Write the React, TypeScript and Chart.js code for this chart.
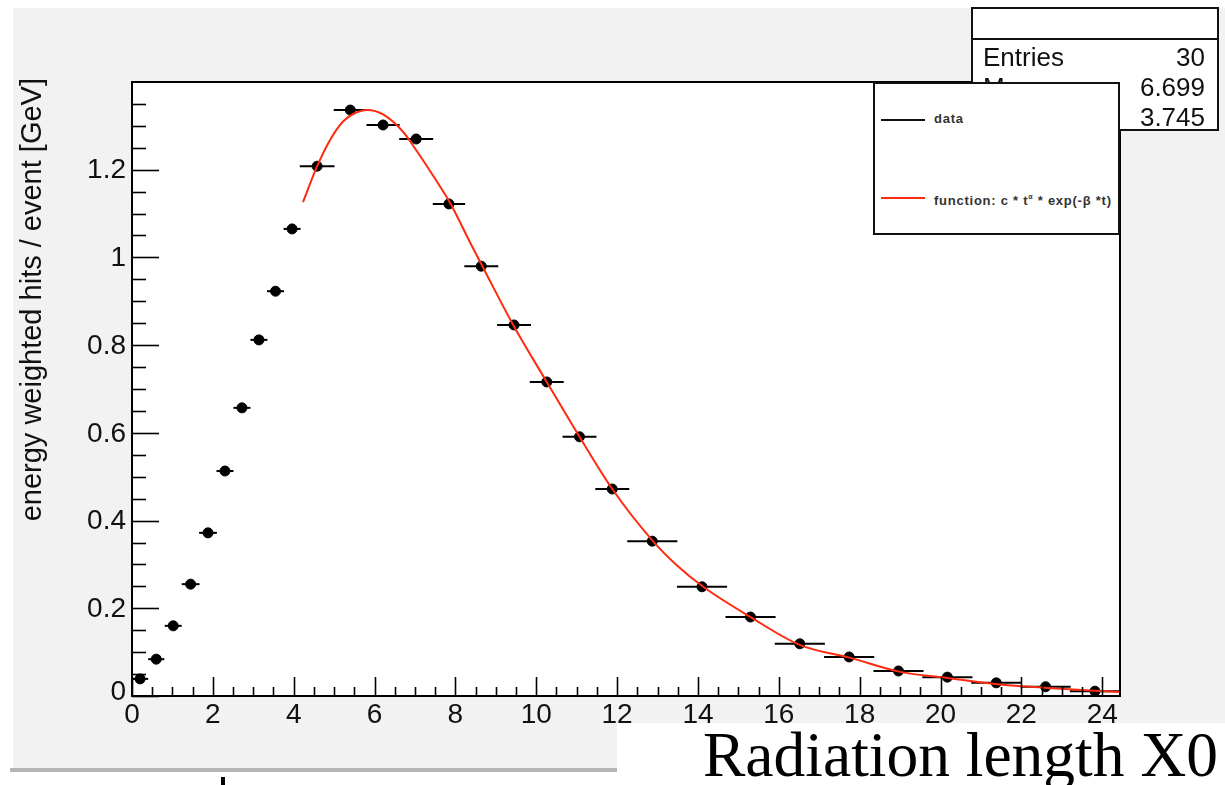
import React, { useEffect, useRef } from "react";
import { Chart, registerables } from "chart.js";

Chart.register(...registerables);

// ---- data ----
const binCenters = [
  0.2, 0.6, 1.02, 1.45, 1.88, 2.3, 2.72, 3.14, 3.55, 3.96, 4.58, 5.4, 6.21, 7.03, 7.84,
  8.64, 9.45, 10.26, 11.07, 11.88, 12.87, 14.1, 15.3, 16.52, 17.74, 18.96, 20.17, 21.38,
  22.6, 23.82,
];
const binHalfWidths = [
  0.2, 0.2, 0.21, 0.22, 0.22, 0.21, 0.21, 0.21, 0.21, 0.21, 0.43, 0.41, 0.41, 0.42, 0.4,
  0.42, 0.42, 0.42, 0.42, 0.42, 0.62, 0.62, 0.62, 0.62, 0.62, 0.62, 0.62, 0.62, 0.62, 0.62,
];
const hitValues = [
  0.039, 0.084, 0.16, 0.255, 0.372, 0.513, 0.657, 0.812, 0.923, 1.065, 1.208, 1.336, 1.302,
  1.27, 1.122, 0.98, 0.846, 0.716, 0.591, 0.472, 0.353, 0.249, 0.18, 0.119, 0.089, 0.057,
  0.043, 0.03, 0.021, 0.011,
];
const fitX = [
  4.23, 4.58, 4.9, 5.22, 5.47, 5.82, 6.21, 6.71, 6.96, 7.55, 7.87, 8.37, 8.69, 9.43, 10.26,
  11.07, 11.88, 12.87, 13.49, 14.13, 15.3, 16.53, 17.77, 19.0, 20.17, 21.41, 22.55, 24.44,
];
const fitY = [
  1.126, 1.208, 1.268, 1.31, 1.327, 1.336, 1.326, 1.286, 1.254, 1.172, 1.124, 1.033, 0.976,
  0.846, 0.716, 0.591, 0.472, 0.355, 0.297, 0.249, 0.18, 0.116, 0.087, 0.055, 0.041, 0.027,
  0.019, 0.009,
];
const xTickValues = [0, 2, 4, 6, 8, 10, 12, 14, 16, 18, 20, 22, 24];
const yTickValues = [0, 0.2, 0.4, 0.6, 0.8, 1.0, 1.2];
const yTickLabels = ["0", "0.2", "0.4", "0.6", "0.8", "1", "1.2"];
const xRange = [0, 24.44];
const yRange = [0, 1.4];
const yTitle = "energy weighted hits / event [GeV]";
const statsLabels = ["Entries", "Mean", "RMS"];
const statsValues = ["30", "6.699", "3.745"];
const xTitle = "Radiation length X0";

const SANS = '"Liberation Sans", Arial, Helvetica, sans-serif';
const SERIF = '"Liberation Serif", "Times New Roman", serif';
const RED = "#ff2a10";

const rootAxesPlugin = {
  id: "rootAxes",
  beforeDraw(chart: any) {
    const { ctx, chartArea: a } = chart;
    ctx.save();
    ctx.fillStyle = "#ffffff";
    ctx.fillRect(a.left, a.top, a.right - a.left, a.bottom - a.top);
    ctx.restore();
  },
  beforeDatasetsDraw(chart: any) {
    const { ctx } = chart;
    const xs = chart.scales.x;
    const ys = chart.scales.y;
    ctx.save();
    ctx.strokeStyle = "#000";
    ctx.lineWidth = 2;
    for (let i = 0; i < binCenters.length; i++) {
      const y = ys.getPixelForValue(hitValues[i]);
      ctx.beginPath();
      ctx.moveTo(xs.getPixelForValue(binCenters[i] - binHalfWidths[i]), y);
      ctx.lineTo(xs.getPixelForValue(binCenters[i] + binHalfWidths[i]), y);
      ctx.stroke();
    }
    ctx.restore();
  },
  afterDraw(chart: any) {
    const { ctx, chartArea: a } = chart;
    const xs = chart.scales.x;
    const ys = chart.scales.y;
    ctx.save();
    ctx.strokeStyle = "#000";
    ctx.lineWidth = 2;
    ctx.strokeRect(a.left, a.top, a.right - a.left, a.bottom - a.top);
    ctx.lineWidth = 1.6;
    // x ticks
    for (let v = 0; v <= xRange[1] + 1e-9; v += 0.5) {
      const px = Math.round(xs.getPixelForValue(v)) + 0.5;
      const major = Math.abs(v / 2 - Math.round(v / 2)) < 1e-6;
      const len = major ? 19 : 9;
      ctx.beginPath();
      ctx.moveTo(px, a.bottom);
      ctx.lineTo(px, a.bottom - len);
      ctx.stroke();
    }
    // y ticks
    for (let k = 0; k * 0.05 < yRange[1] - 1e-6; k++) {
      const v = k * 0.05;
      const py = Math.round(ys.getPixelForValue(v)) + 0.5;
      const major = k % 4 === 0;
      const len = major ? 27 : 14;
      ctx.beginPath();
      ctx.moveTo(a.left, py);
      ctx.lineTo(a.left + len, py);
      ctx.stroke();
    }
    // labels
    ctx.fillStyle = "#111";
    ctx.font = `28px ${SANS}`;
    ctx.textAlign = "center";
    ctx.textBaseline = "top";
    xTickValues.forEach((v) => {
      ctx.fillText(String(v), xs.getPixelForValue(v), a.bottom + 5);
    });
    ctx.textAlign = "right";
    ctx.textBaseline = "middle";
    yTickValues.forEach((v, i) => {
      ctx.fillText(yTickLabels[i], a.left - 6, ys.getPixelForValue(v) + (i === 0 ? -4 : 1));
    });
    // y title
    ctx.save();
    ctx.translate(33, a.top - 4);
    ctx.rotate(-Math.PI / 2);
    ctx.textAlign = "right";
    ctx.textBaseline = "middle";
    ctx.font = `29px ${SANS}`;
    ctx.fillText(yTitle, 0, 0);
    ctx.restore();
    ctx.restore();
  },
};

export default function App() {
  const canvasRef = useRef<HTMLCanvasElement | null>(null);

  useEffect(() => {
    if (!canvasRef.current) return;
    const points = binCenters.map((x, i) => ({ x, y: hitValues[i] }));
    const curve = fitX.map((x, i) => ({ x, y: fitY[i] }));
    const chart = new Chart(canvasRef.current, {
      type: "scatter",
      data: {
        datasets: [
          {
            label: "function",
            data: curve,
            showLine: true,
            borderColor: RED,
            borderWidth: 2,
            pointRadius: 0,
            cubicInterpolationMode: "monotone",
            order: 0,
          } as any,
          {
            label: "data",
            data: points,
            showLine: false,
            pointRadius: 5,
            pointBackgroundColor: "#000",
            pointBorderColor: "#000",
            pointBorderWidth: 1,
            order: 1,
          },
        ],
      },
      options: {
        responsive: false,
        animation: false,
        devicePixelRatio: 1,
        layout: { padding: { left: 132, top: 82, right: 105, bottom: 89 } },
        plugins: { legend: { display: false }, tooltip: { enabled: false }, title: { display: false } },
        scales: {
          x: { type: "linear", min: xRange[0], max: xRange[1], display: false },
          y: { type: "linear", min: yRange[0], max: yRange[1], display: false },
        },
      },
      plugins: [rootAxesPlugin],
    });
    return () => chart.destroy();
  }, []);

  const abs = (s: React.CSSProperties): React.CSSProperties => ({ position: "absolute", ...s });

  return (
    <div
      style={{
        position: "fixed",
        left: 0,
        top: 0,
        width: 1225,
        height: 785,
        background: "#ffffff",
        overflow: "hidden",
        fontFamily: SANS,
      }}
    >
      <div style={abs({ left: 13, top: 8, width: 1212, height: 761, background: "#f2f2f2" })} />
      <div style={abs({ left: 10, top: 768, width: 610, height: 4, background: "#b5b5b5" })} />
      <canvas ref={canvasRef} width={1225} height={785} style={abs({ left: 0, top: 0 })} />
      {/* stats box */}
      <div
        style={abs({
          left: 971,
          top: 7,
          width: 248,
          height: 124,
          boxSizing: "border-box",
          border: "2px solid #111",
          background: "#fff",
        })}
      >
        <div style={abs({ left: 0, top: 29, width: 244, height: 2, background: "#111" })} />
        {statsLabels.map((l, i) => (
          <React.Fragment key={l}>
            <div style={abs({ left: 10, top: 33 + i * 30, fontSize: 26, lineHeight: "30px", color: "#111" })}>{l}</div>
            <div style={abs({ right: 12, top: 33 + i * 30, fontSize: 26, lineHeight: "30px", color: "#111" })}>
              {statsValues[i]}
            </div>
          </React.Fragment>
        ))}
      </div>
      {/* legend box */}
      <div
        style={abs({
          left: 873,
          top: 82,
          width: 247,
          height: 153,
          boxSizing: "border-box",
          border: "2px solid #111",
          background: "#fff",
        })}
      >
        <div style={abs({ left: 6, top: 35, width: 44, height: 2, background: "#111" })} />
        <div
          style={abs({
            left: 59,
            top: 27,
            fontSize: 13,
            lineHeight: "16px",
            fontWeight: 700,
            color: "#333",
            letterSpacing: 0.75,
          })}
        >
          data
        </div>
        <div style={abs({ left: 6, top: 113, width: 44, height: 2, background: RED })} />
        <div
          style={abs({
            left: 59,
            top: 105,
            fontSize: 13,
            lineHeight: "16px",
            fontWeight: 700,
            color: "#333",
            whiteSpace: "nowrap",
            letterSpacing: 0.75,
          })}
        >
          function: c * t<sup style={{ fontSize: 7, verticalAlign: 6 }}>α</sup> * exp(-β *t)
        </div>
      </div>
      {/* bottom white box with axis title */}
      <div style={abs({ left: 617, top: 723, width: 608, height: 62, background: "#fff" })}>
        <div
          style={abs({
            right: 7,
            top: -4,
            fontFamily: SERIF,
            fontSize: 63.5,
            lineHeight: "72px",
            color: "#000",
            whiteSpace: "nowrap",
          })}
        >
          {xTitle}
        </div>
      </div>
      <div style={abs({ left: 221, top: 777, width: 4, height: 8, background: "#000" })} />
    </div>
  );
}
